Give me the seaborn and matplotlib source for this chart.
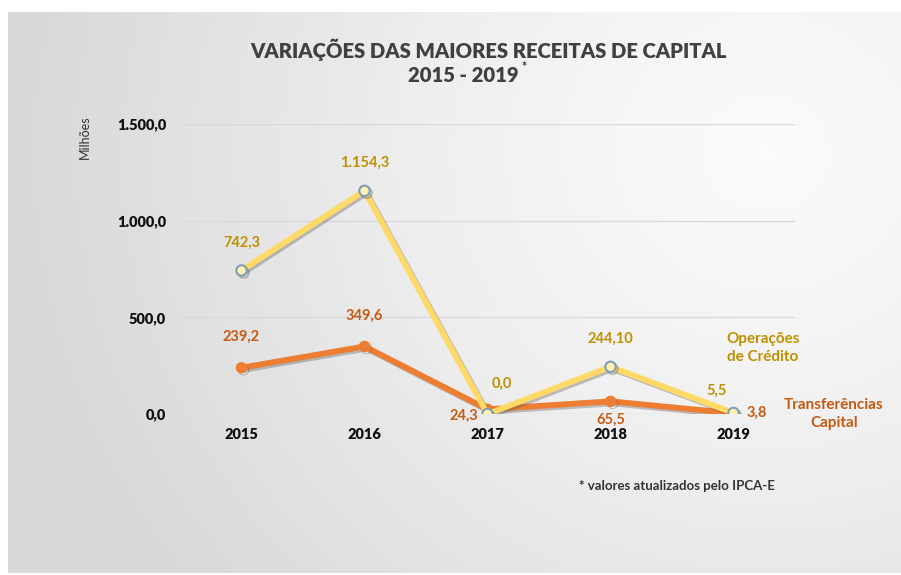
import numpy as np
import pandas as pd
import seaborn as sns
import matplotlib.pyplot as plt
from matplotlib import patheffects as pe
from matplotlib.ticker import FuncFormatter

# data
anos = ["2015", "2016", "2017", "2018", "2019"]
operacoes_credito = [742.3, 1154.3, 0.0, 244.1, 5.5]
operacoes_labels = ["742,3", "1.154,3", "0,0", "244,10", "5,5"]
transferencias_capital = [239.2, 349.6, 24.3, 65.5, 3.8]
transferencias_labels = ["239,2", "349,6", "24,3", "65,5", "3,8"]
yticks = [0, 500, 1000, 1500]

sns.set_style("white")
plt.rcParams["font.family"] = ["Lato", "DejaVu Sans"]

df = pd.DataFrame({
    "ano": list(range(len(anos))) * 2,
    "valor": operacoes_credito + transferencias_capital,
    "serie": ["Operações de Crédito"] * 5 + ["Transferências Capital"] * 5,
})

fig = plt.figure(figsize=(9.01, 5.75), dpi=100)

# background gradient panel
bg = fig.add_axes([8 / 901, 2 / 575, 893 / 901, 561 / 575], zorder=-10)
xx, yy = np.meshgrid(np.linspace(0, 1, 300), np.linspace(0, 1, 200))
r = np.sqrt(((xx - 0.85) * 1.2) ** 2 + ((yy - 0.75) * 0.8) ** 2)
grad = np.clip(1 - r, 0, 1)
bg.imshow(grad, cmap="Greys_r", vmin=-3.4, vmax=1.15, aspect="auto", origin="lower",
          extent=[0, 1, 0, 1])
bg.set_axis_off()

ax = fig.add_axes([180 / 901, (575 - 414) / 575, 615 / 901, 290 / 575])
ax.patch.set_alpha(0)

yellow = "#FFD966"
orange = "#ED7D31"
shadow = [pe.SimpleLineShadow(offset=(1.5, -1.5), alpha=0.35, shadow_color="#555555"), pe.Normal()]

op = df[df["serie"] == "Operações de Crédito"]
tr = df[df["serie"] == "Transferências Capital"]
sns.lineplot(data=tr, x="ano", y="valor", ax=ax, color=orange, lw=4.2, marker="o",
             markersize=7.5, markeredgecolor=orange, zorder=3, path_effects=shadow)
sns.lineplot(data=op, x="ano", y="valor", ax=ax, color=yellow, lw=4.2, marker="o",
             markersize=7.5, markerfacecolor="#FFF2B0", markeredgecolor="#7F9DB9",
             markeredgewidth=1.5, zorder=4, path_effects=shadow)

ax.set_xlim(-0.5, 4.5)
ax.set_ylim(0, 1500)
ax.set_yticks(yticks)
ax.yaxis.set_major_formatter(FuncFormatter(lambda v, p: f"{v:,.1f}".replace(",", "X").replace(".", ",").replace("X", ".")))
ax.set_xticks(range(len(anos)))
ax.set_xticklabels(anos)
ax.tick_params(axis="both", length=0, labelsize=10.5, colors="#111111")
ax.tick_params(axis="y", pad=10)
ax.tick_params(axis="x", pad=10)
for lab in ax.get_xticklabels() + ax.get_yticklabels():
    lab.set_fontweight("heavy")
ax.grid(axis="y", color="#d9d9d9", lw=1)
ax.set_axisbelow(True)
for s in ax.spines.values():
    s.set_visible(False)
ax.set_xlabel("")
ax.set_ylabel("")
ax.get_legend() and ax.get_legend().remove()

# data labels
ycol = "#BF9000"
ocol = "#C55A11"
op_off = [(0, 20), (0, 20), (10, 22), (0, 20), (-12, 16)]
for i, (v, t) in enumerate(zip(operacoes_credito, operacoes_labels)):
    dx, dy = op_off[i]
    ax.annotate(t, (i, v), xytext=(dx, dy), textcoords="offset points", ha="center",
                va="center", color=ycol, fontsize=10.5, fontweight="bold")
tr_off = [(0, 22), (0, 22), (-17, -5), (0, -13), (17, 0)]
for i, (v, t) in enumerate(zip(transferencias_capital, transferencias_labels)):
    dx, dy = tr_off[i]
    ax.annotate(t, (i, v), xytext=(dx, dy), textcoords="offset points", ha="center",
                va="center", color=ocol, fontsize=10.5, fontweight="bold")

# series names
fig.text(763 / 901, 1 - 348 / 575, "Operações\nde Crédito", ha="center", va="center",
         color=ycol, fontsize=11, fontweight="bold", linespacing=1.45)
fig.text(834 / 901, 1 - 414 / 575, "Transferências\nCapital", ha="center", va="center",
         color=ocol, fontsize=11, fontweight="bold", linespacing=1.45)

fig.text(85 / 901, 1 - 137 / 575, "Milhões", rotation=90, ha="center", va="center",
         fontsize=9, color="#333333")
fig.text(489 / 901, 1 - 50 / 575, "VARIAÇÕES DAS MAIORES RECEITAS DE CAPITAL",
         ha="center", va="center", fontsize=14.6, fontweight="heavy", color="#404040")
fig.text(463 / 901, 1 - 76 / 575, "2015 - 2019", ha="center", va="center",
         fontsize=14.6, fontweight="heavy", color="#404040")
fig.text(524 / 901, 1 - 67 / 575, "*", ha="center", va="center",
         fontsize=9, fontweight="bold", color="#404040")
fig.text(677 / 901, 1 - 486 / 575, "* valores atualizados pelo IPCA-E", ha="center",
         va="center", fontsize=9.5, fontweight="bold", color="#333333")

fig.savefig("out.png", dpi=100)
